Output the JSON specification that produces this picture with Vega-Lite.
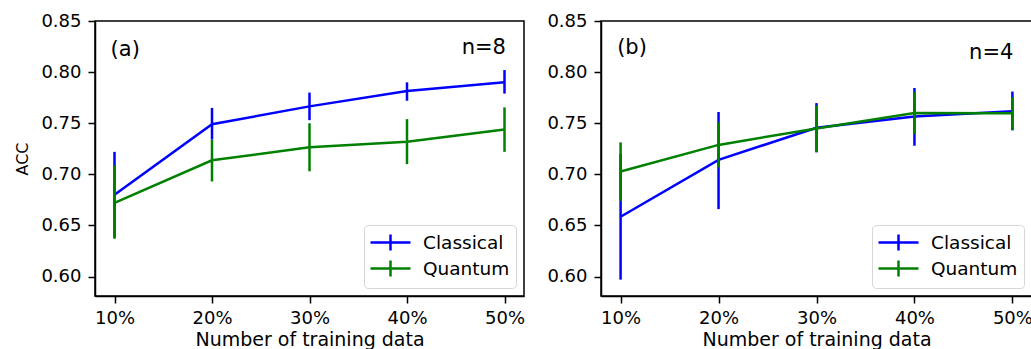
{
  "$schema": "https://vega.github.io/schema/vega-lite/v6.json",
  "padding": {"left": 14, "top": 11, "right": 0, "bottom": 0},
  "config": {
    "font": "DejaVu Sans",
    "view": {"stroke": "#000000", "strokeWidth": 1.5},
    "axis": {
      "grid": false,
      "domainColor": "#000000", "domainWidth": 1.5,
      "tickColor": "#000000", "tickWidth": 1.5, "tickSize": 7,
      "labelFont": "DejaVu Sans", "labelFontSize": 18, "labelColor": "#000000",
      "titleFont": "DejaVu Sans", "titleColor": "#000000", "titleFontWeight": "normal"
    },
    "legend": {
      "title": null, "orient": "bottom-right", "offset": 8,
      "symbolType": "M-2,0H2M0,-0.8V0.8", "symbolSize": 400, "symbolStrokeWidth": 2.5,
      "symbolFillColor": "transparent", "symbolOffset": 9,
      "labelFontSize": 18.5, "labelColor": "#000000", "labelOffset": 21,
      "padding": 6, "rowPadding": -1, "fillColor": "#ffffff", "strokeColor": "#d6d6d6", "cornerRadius": 4
    }
  },
  "datasets": {
    "acc": [
      {"panel": "a", "series": "Classical", "pct": 10, "acc": 0.680, "lo": 0.638, "hi": 0.722},
      {"panel": "a", "series": "Classical", "pct": 20, "acc": 0.749, "lo": 0.734, "hi": 0.765},
      {"panel": "a", "series": "Classical", "pct": 30, "acc": 0.7665, "lo": 0.753, "hi": 0.780},
      {"panel": "a", "series": "Classical", "pct": 40, "acc": 0.7815, "lo": 0.772, "hi": 0.790},
      {"panel": "a", "series": "Classical", "pct": 50, "acc": 0.790, "lo": 0.779, "hi": 0.802},
      {"panel": "a", "series": "Quantum", "pct": 10, "acc": 0.672, "lo": 0.637, "hi": 0.709},
      {"panel": "a", "series": "Quantum", "pct": 20, "acc": 0.7137, "lo": 0.693, "hi": 0.734},
      {"panel": "a", "series": "Quantum", "pct": 30, "acc": 0.7265, "lo": 0.703, "hi": 0.750},
      {"panel": "a", "series": "Quantum", "pct": 40, "acc": 0.732, "lo": 0.710, "hi": 0.754},
      {"panel": "a", "series": "Quantum", "pct": 50, "acc": 0.7438, "lo": 0.722, "hi": 0.7655},
      {"panel": "b", "series": "Classical", "pct": 10, "acc": 0.6585, "lo": 0.597, "hi": 0.720},
      {"panel": "b", "series": "Classical", "pct": 20, "acc": 0.7142, "lo": 0.666, "hi": 0.761},
      {"panel": "b", "series": "Classical", "pct": 30, "acc": 0.7456, "lo": 0.7215, "hi": 0.7697},
      {"panel": "b", "series": "Classical", "pct": 40, "acc": 0.7565, "lo": 0.728, "hi": 0.7845},
      {"panel": "b", "series": "Classical", "pct": 50, "acc": 0.7618, "lo": 0.743, "hi": 0.781},
      {"panel": "b", "series": "Quantum", "pct": 10, "acc": 0.7028, "lo": 0.674, "hi": 0.7313},
      {"panel": "b", "series": "Quantum", "pct": 20, "acc": 0.7288, "lo": 0.7067, "hi": 0.751},
      {"panel": "b", "series": "Quantum", "pct": 30, "acc": 0.7449, "lo": 0.722, "hi": 0.7673},
      {"panel": "b", "series": "Quantum", "pct": 40, "acc": 0.760, "lo": 0.7395, "hi": 0.7806},
      {"panel": "b", "series": "Quantum", "pct": 50, "acc": 0.7598, "lo": 0.7434, "hi": 0.7756}
    ]
  },
  "spacing": 20,
  "resolve": {"legend": {"color": "independent"}},
  "hconcat": [
    {
      "width": 429, "height": 275,
      "layer": [
        {
          "data": {"name": "acc"},
          "transform": [{"filter": "datum.panel === 'a'"}],
          "mark": {"type": "line", "strokeWidth": 2.5},
          "encoding": {
            "x": {"field": "pct", "type": "quantitative", "scale": {"domain": [8, 52], "nice": false, "zero": false},
                  "axis": {"values": [10, 20, 30, 40, 50], "labelExpr": "datum.value + '%'", "labelPadding": 6, "title": "Number of training data", "titleFontSize": 19, "titlePadding": 3}},
            "y": {"field": "acc", "type": "quantitative", "scale": {"domain": [0.581, 0.85], "nice": false, "zero": false},
                  "axis": {"values": [0.6, 0.65, 0.7, 0.75, 0.8, 0.85], "format": ".2f", "labelPadding": 7, "title": "ACC", "titleFontSize": 16, "titlePadding": 10}},
            "color": {"field": "series", "type": "nominal",
                      "scale": {"domain": ["Classical", "Quantum"], "range": ["#0000ff", "#008000"]}}
          }
        },
        {
          "data": {"name": "acc"},
          "transform": [{"filter": "datum.panel === 'a'"}],
          "mark": {"type": "rule", "strokeWidth": 2.5},
          "encoding": {
            "x": {"field": "pct", "type": "quantitative"},
            "y": {"field": "lo", "type": "quantitative"},
            "y2": {"field": "hi"},
            "color": {"field": "series", "type": "nominal"}
          }
        },
        {
          "data": {"values": [{"label": "(a)"}]},
          "mark": {"type": "text", "align": "left", "baseline": "middle", "fontSize": 21, "color": "#000000"},
          "encoding": {"x": {"datum": 9.6}, "y": {"datum": 0.822}, "text": {"field": "label"}}
        },
        {
          "data": {"values": [{"label": "n=8"}]},
          "mark": {"type": "text", "align": "right", "baseline": "middle", "fontSize": 21, "color": "#000000"},
          "encoding": {"x": {"datum": 50.15}, "y": {"datum": 0.824}, "text": {"field": "label"}}
        }
      ]
    },
    {
      "width": 431, "height": 275,
      "layer": [
        {
          "data": {"name": "acc"},
          "transform": [{"filter": "datum.panel === 'b'"}],
          "mark": {"type": "line", "strokeWidth": 2.5},
          "encoding": {
            "x": {"field": "pct", "type": "quantitative", "scale": {"domain": [8, 52], "nice": false, "zero": false},
                  "axis": {"values": [10, 20, 30, 40, 50], "labelExpr": "datum.value + '%'", "labelPadding": 6, "title": "Number of training data", "titleFontSize": 19, "titlePadding": 3}},
            "y": {"field": "acc", "type": "quantitative", "scale": {"domain": [0.581, 0.85], "nice": false, "zero": false},
                  "axis": {"values": [0.6, 0.65, 0.7, 0.75, 0.8, 0.85], "format": ".2f", "labelPadding": 7, "title": null}},
            "color": {"field": "series", "type": "nominal",
                      "scale": {"domain": ["Classical", "Quantum"], "range": ["#0000ff", "#008000"]}}
          }
        },
        {
          "data": {"name": "acc"},
          "transform": [{"filter": "datum.panel === 'b'"}],
          "mark": {"type": "rule", "strokeWidth": 2.5},
          "encoding": {
            "x": {"field": "pct", "type": "quantitative"},
            "y": {"field": "lo", "type": "quantitative"},
            "y2": {"field": "hi"},
            "color": {"field": "series", "type": "nominal"}
          }
        },
        {
          "data": {"values": [{"label": "(b)"}]},
          "mark": {"type": "text", "align": "left", "baseline": "middle", "fontSize": 21, "color": "#000000"},
          "encoding": {"x": {"datum": 9.65}, "y": {"datum": 0.824}, "text": {"field": "label"}}
        },
        {
          "data": {"values": [{"label": "n=4"}]},
          "mark": {"type": "text", "align": "right", "baseline": "middle", "fontSize": 21, "color": "#000000"},
          "encoding": {"x": {"datum": 50.1}, "y": {"datum": 0.819}, "text": {"field": "label"}}
        }
      ]
    }
  ]
}
